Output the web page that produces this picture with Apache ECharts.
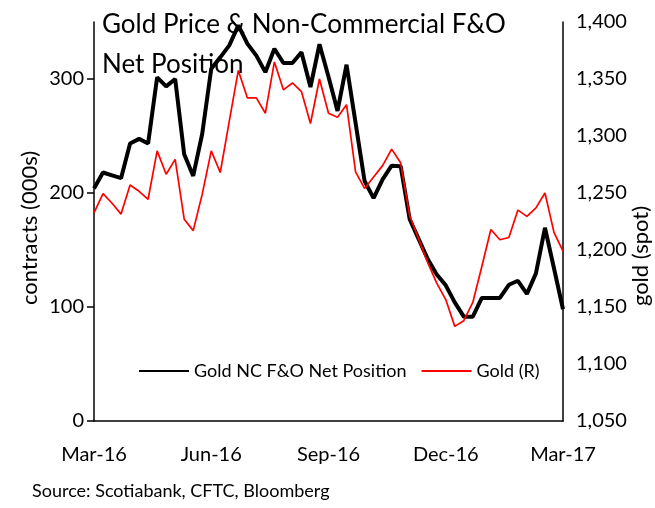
<!DOCTYPE html>
<html>
<head>
<meta charset="utf-8">
<script src="https://cdn.jsdelivr.net/npm/echarts@6/dist/echarts.min.js"></script>
<style>
  html, body { margin: 0; padding: 0; background: #fff; }
  #chart { width: 655px; height: 508px; }
</style>
</head>
<body>
<div id="chart"></div>
<script>
// weekly CFTC report dates, Mar-16 .. Mar-17
const weekStart = Date.UTC(2016, 2, 8)
const weeks = Array.from({ length: 53 }, (_, i) => new Date(weekStart + i * 7 * 86400000).toISOString().slice(0, 10))

// non-commercial futures & options net position, contracts (000s)
const netPosition = [204, 218, 215.5, 213, 243.5, 247.5, 243.5, 301.5, 293.5, 300, 234, 215, 252, 309,
  319, 329.5, 347, 331, 320.5, 306, 326.5, 314, 314, 323.5, 293, 330.5, 302, 272, 312.5, 261.5,
  210.5, 195.5, 212, 224, 223.5, 177, 159.5, 142, 128.5, 119, 104, 91.5, 91.5, 108, 108, 108,
  119.5, 123, 111.5, 129.5, 169.5, 134, 98]

// gold spot price (right axis)
const goldSpot = [1232.5, 1249.5, 1241, 1231.5, 1257, 1251.5, 1244.5, 1287, 1266.5, 1279.5, 1227, 1217,
  1249, 1287, 1268, 1313, 1357.5, 1333.5, 1333.5, 1320, 1365, 1340.5, 1346.5, 1339, 1311, 1350,
  1320, 1316.5, 1327.5, 1268.5, 1254, 1264, 1274, 1288.5, 1276.5, 1230, 1209.5, 1189, 1171, 1156.5,
  1133, 1138, 1154, 1185.5, 1218, 1209, 1211, 1235, 1229.5, 1237, 1250, 1215.5, 1199]

const leftTicks = [0, 100, 200, 300]
const months = ['Jan', 'Feb', 'Mar', 'Apr', 'May', 'Jun', 'Jul', 'Aug', 'Sep', 'Oct', 'Nov', 'Dec']

const font = 'Lato, "Open Sans", sans-serif'

const chart = echarts.init(document.getElementById('chart'))

chart.setOption({
  animation: false,
  textStyle: { fontFamily: font, color: '#000' },
  title: {
    text: 'Gold Price & Non-Commercial F&O\nNet Position',
    left: 97,
    top: 0,
    textStyle: { fontFamily: font, fontSize: 26, fontWeight: 'normal', color: '#000', lineHeight: 40 }
  },
  legend: {
    left: 133,
    top: 357,
    itemWidth: 50,
    itemHeight: 20,
    itemGap: 14,
    itemStyle: { opacity: 0 },
    textStyle: { fontFamily: font, fontSize: 18, color: '#000' },
    data: ['Gold NC F&O Net Position', 'Gold (R)']
  },
  grid: { left: 94, right: 92, top: 22, bottom: 87 },
  xAxis: {
    type: 'category',
    data: weeks,
    boundaryGap: false,
    axisLine: { lineStyle: { color: '#000', width: 1.5 } },
    axisTick: { show: false },
    axisLabel: {
      interval: 12,
      margin: 24,
      fontSize: 20,
      color: '#000',
      formatter: (v) => {
        const d = new Date(v)
        return months[d.getUTCMonth()] + '-' + String(d.getUTCFullYear()).slice(2)
      }
    },
    splitLine: { show: false }
  },
  yAxis: [
    {
      type: 'value',
      min: 0,
      max: 350,
      interval: 50,
      axisLine: { show: true, lineStyle: { color: '#000', width: 1.5 } },
      axisTick: { show: true, length: 7, customValues: leftTicks, lineStyle: { color: '#000', width: 1.5 } },
      axisLabel: { customValues: leftTicks, margin: 10, fontSize: 20, color: '#000' },
      splitLine: { show: false }
    },
    {
      type: 'value',
      min: 1050,
      max: 1400,
      interval: 50,
      position: 'right',
      axisLine: { show: true, lineStyle: { color: '#000', width: 1.5 } },
      axisTick: { show: false },
      axisLabel: {
        margin: 13,
        fontSize: 20,
        color: '#000',
        formatter: (v) => v.toLocaleString('en-US')
      },
      splitLine: { show: false }
    }
  ],
  graphic: [
    {
      type: 'text',
      x: 30,
      y: 228,
      rotation: Math.PI / 2,
      style: { text: 'contracts (000s)', fontFamily: font, fontSize: 22, fill: '#000', align: 'center', verticalAlign: 'middle' }
    },
    {
      type: 'text',
      x: 641,
      y: 256,
      rotation: Math.PI / 2,
      style: { text: 'gold (spot)', fontFamily: font, fontSize: 22, fill: '#000', align: 'center', verticalAlign: 'middle' }
    },
    {
      type: 'text',
      left: 32,
      top: 482,
      style: { text: 'Source: Scotiabank, CFTC, Bloomberg', fontFamily: font, fontSize: 18, fill: '#000' }
    }
  ],
  series: [
    {
      name: 'Gold NC F&O Net Position',
      type: 'line',
      data: netPosition,
      yAxisIndex: 0,
      symbol: 'none',
      lineStyle: { color: '#000', width: 4 },
      itemStyle: { color: '#000' }
    },
    {
      name: 'Gold (R)',
      type: 'line',
      data: goldSpot,
      yAxisIndex: 1,
      symbol: 'none',
      lineStyle: { color: '#ff0000', width: 1.7 },
      itemStyle: { color: '#ff0000' }
    }
  ]
})

window.addEventListener('resize', () => chart.resize())
</script>
</body>
</html>
